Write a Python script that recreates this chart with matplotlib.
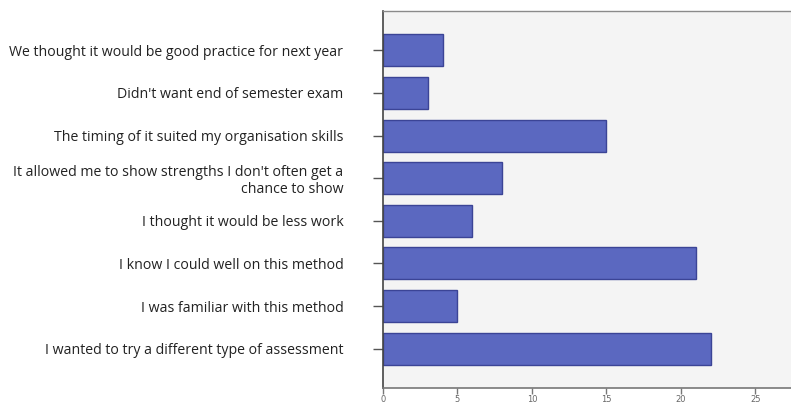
import matplotlib

matplotlib.use("Agg")

import matplotlib.pyplot as plt
import numpy as np

reasons = [
    "We thought it would be good practice for next year",
    "Didn't want end of semester exam",
    "The timing of it suited my organisation skills",
    "It allowed me to show strengths I don't often get a\nchance to show",
    "I thought it would be less work",
    "I know I could well on this method",
    "I was familiar with this method",
    "I wanted to try a different type of assessment",
]
counts = [4, 3, 15, 8, 6, 21, 5, 22]
x_ticks = [0, 5, 10, 15, 20, 25]

BAR_COLOR = "#5b68c0"
EDGE_COLOR = "#3b4496"

W, H = 791, 403
fig = plt.figure(figsize=(W / 100, H / 100), dpi=100)
ax = fig.add_axes([383 / W, 1 - 388 / H, 1 - 383 / W, (388 - 11) / H])
ax.set_facecolor("#f4f4f4")

y = np.arange(len(reasons))
ax.barh(y, counts, height=0.75, color=BAR_COLOR, edgecolor=EDGE_COLOR, linewidth=1.0)

ax.set_xlim(0, 27.4)
ax.set_ylim(len(reasons) - 1 + 0.92, -0.92)
ax.set_yticks(y)
ax.set_yticklabels(reasons, fontsize=10.2, family="Open Sans", color="#222222",
                   ha="right", linespacing=1.2)
ax.set_xticks(x_ticks)
ax.set_xticklabels([str(t) for t in x_ticks], fontsize=6, color="#666666")

ax.tick_params(axis="y", direction="out", length=7, width=1.0, color="#555555", pad=21.5)
ax.tick_params(axis="x", direction="out", length=4, width=1.0, color="#777777", pad=1)

ax.spines["left"].set_color("#444444")
ax.spines["left"].set_linewidth(1.2)
ax.spines["bottom"].set_color("#777777")
ax.spines["bottom"].set_linewidth(1.2)
ax.spines["top"].set_color("#8a8a8a")
ax.spines["top"].set_linewidth(1.0)
ax.spines["right"].set_visible(False)

fig.savefig("out.png", dpi=100)
plt.close(fig)
